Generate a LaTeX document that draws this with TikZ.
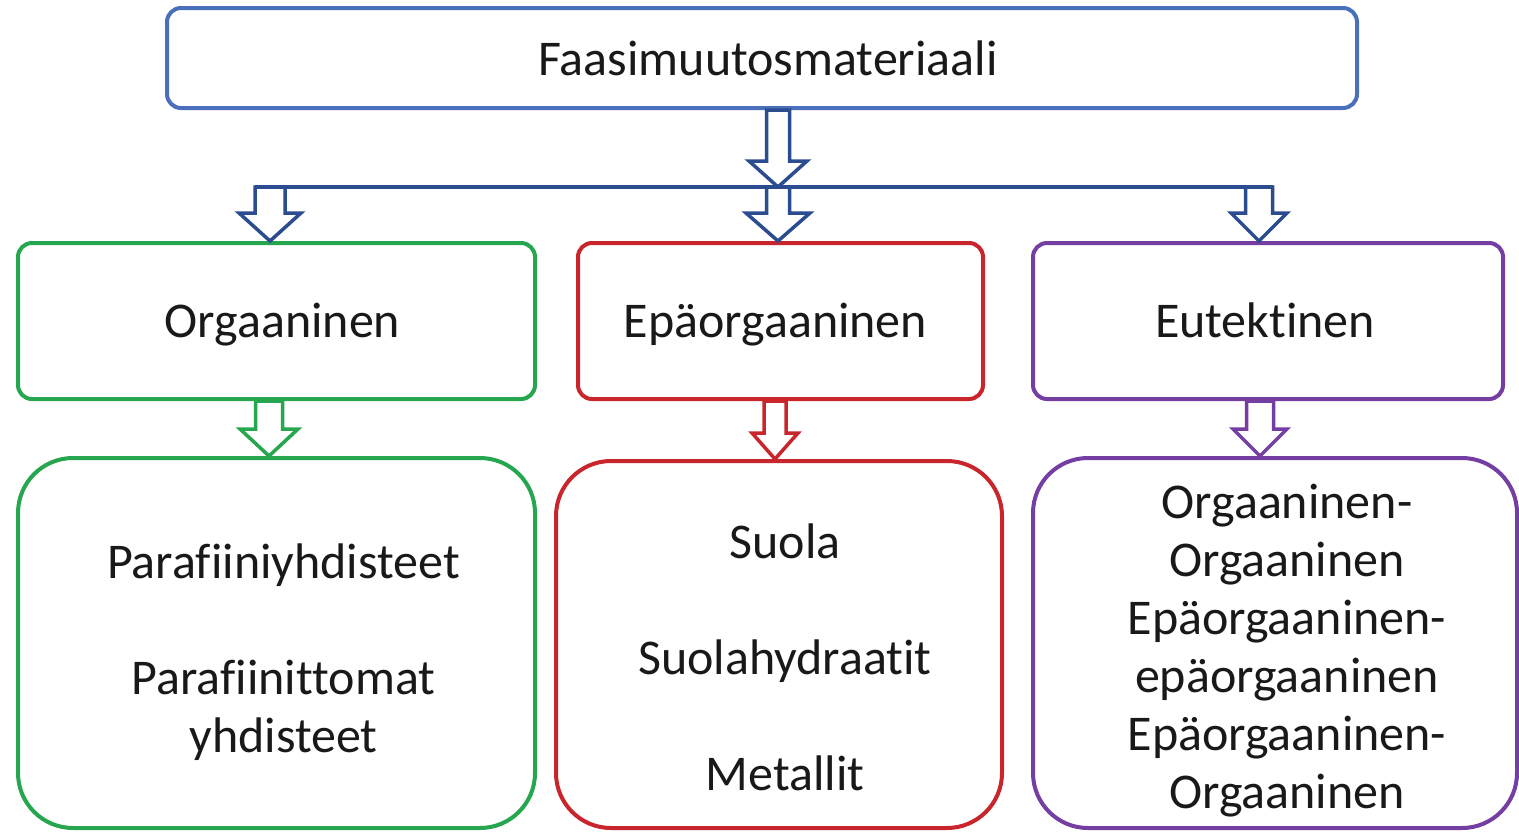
\documentclass[tikz,border=0pt]{standalone}
\usepackage{fontspec}
\setmainfont[Ligatures=NoCommon]{Carlito}
\usetikzlibrary{calc}
\definecolor{cblue}{RGB}{74,112,188}
\definecolor{cablue}{RGB}{44,76,144}
\definecolor{cgreen}{RGB}{38,166,78}
\definecolor{cred}{RGB}{200,38,44}
\definecolor{cpurple}{RGB}{116,62,162}
\tikzset{
  box/.style={draw=#1, line width=4pt, rounded corners=14pt, fill=white, inner sep=0pt},
  bigbox/.style={box=#1, rounded corners=55pt},
  label/.style={font=\fontsize{50}{58}\selectfont, text=black!90, align=center, inner sep=0pt},
  onelabel/.style={label, text height=36pt, text depth=11pt},
  barrowstyle/.style={draw=#1, line width=3.5pt, fill=white, line join=miter},
  linkline/.style={draw=cablue, line width=4pt}
}
% #1 style, #2 start coordinate, #3 tip coordinate, #4 shaft half width, #5 head half width, #6 head length
\newcommand\blockarrow[6]{%
  \draw[#1] let \p1=(#2), \p2=(#3) in
    (\x1-#4,\y1) -- (\x1-#4,\y2+#6) -- (\x1-#5,\y2+#6) -- (\x1,\y2) --
    (\x1+#5,\y2+#6) -- (\x1+#4,\y2+#6) -- (\x1+#4,\y1) -- cycle;}
\begin{document}
\begin{tikzpicture}[x=1pt,y=-1pt]
\useasboundingbox (0,0) rectangle (1519,831);
% boxes
\node[box=cblue, minimum width=1190pt, minimum height=100pt] (top) at (762,58) {};
\node[box=cgreen, minimum width=517pt, minimum height=156pt] (org) at (276.5,321) {};
\node[box=cred, minimum width=405pt, minimum height=156pt] (epa) at (780.5,321) {};
\node[box=cpurple, minimum width=470pt, minimum height=156pt] (eut) at (1268,321) {};
\node[bigbox=cgreen, minimum width=517pt, minimum height=370pt] (orgb) at (276.5,643) {};
\node[bigbox=cred, minimum width=446pt, minimum height=367pt] (epab) at (779,644.5) {};
\node[bigbox=cpurple, minimum width=484pt, minimum height=370pt] (eutb) at (1275,643) {};
% texts
\node[onelabel] (topt) at ($(top.center)+(6,5)$) {Faasimuutosmateriaali};
\node[onelabel] (orgt) at ($(org.center)+(6,4)$) {Orgaaninen};
\node[onelabel] (epat) at ($(epa.center)+(-5,4)$) {Epäorgaaninen};
\node[onelabel] (eutt) at ($(eut.center)+(-3,4)$) {Eutektinen};
\node[label] (orgbt) at ($(orgb.center)+(7,9)$)
  {Parafiiniyhdisteet\\[58pt]Parafiinittomat\\yhdisteet};
\node[label] (epabt) at ($(epab.center)+(6,13)$)
  {Suola\\[58pt]Suolahydraatit\\[58pt]Metallit};
\node[label] (eutbt) at ($(eutb.center)+(12,8)$)
  {Orgaaninen-\\Orgaaninen\\Epäorgaaninen-\\epäorgaaninen\\Epäorgaaninen-\\Orgaaninen};
% connector coordinates
\coordinate (split) at (778,187);
\coordinate (lstart) at (270,187);
\coordinate (rstart) at (1259,187);
% horizontal link
\draw[linkline] ($(lstart)+(-15,0)$) -- ($(rstart)+(13.5,0)$);
% arrows from top box
\blockarrow{barrowstyle=cablue}{top.south -| split}{split}{11.5}{29}{26}
\blockarrow{barrowstyle=cablue}{lstart}{org.north -| lstart}{15}{31}{28}
\blockarrow{barrowstyle=cablue}{split}{epa.north -| split}{11.5}{32}{28}
\blockarrow{barrowstyle=cablue}{rstart}{eut.north -| rstart}{13.5}{28}{28}
% arrows to bottom boxes
\blockarrow{barrowstyle=cgreen}{org.south -| 269,0}{orgb.north -| 269,0}{13.5}{29}{27}
\blockarrow{barrowstyle=cred}{epa.south -| 775,0}{epab.north -| 775,0}{11}{23}{26}
\blockarrow{barrowstyle=cpurple}{eut.south -| 1260,0}{eutb.north -| 1260,0}{13.5}{27}{27}
\end{tikzpicture}
\end{document}
